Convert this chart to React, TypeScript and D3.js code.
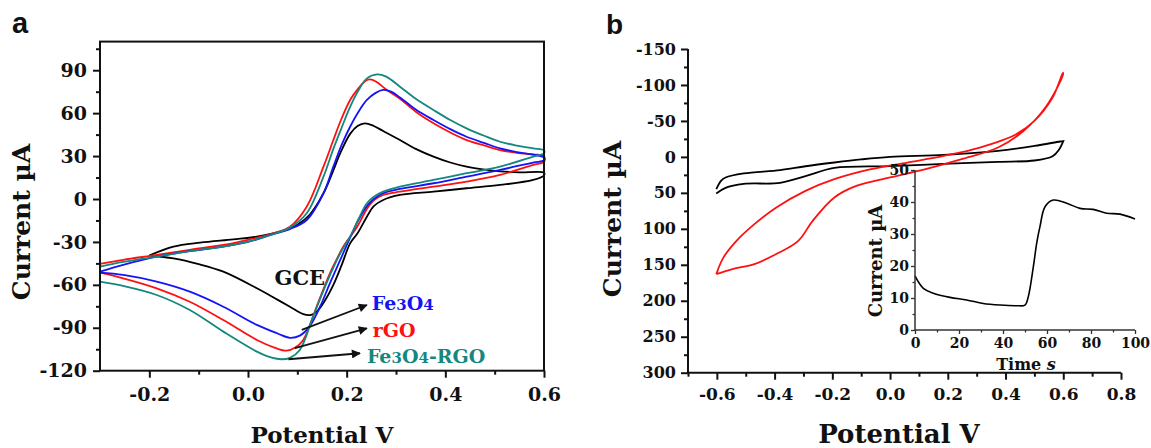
import React, { useEffect, useRef } from 'react';
import * as d3 from 'd3';

type Pt = [number, number];

// ---- panel a: CVs, potential (V) vs current (µA) ----
const gceForward: Pt[] = [[-0.2, -39.5], [-0.151, -33.3], [-0.097, -30.5], [-0.03, -28.2], [0.018, -26.3], [0.072, -22.1], [0.1, -18], [0.125, -11], [0.153, 4], [0.173, 20], [0.187, 32], [0.207, 45.5], [0.222, 51], [0.237, 52.9], [0.255, 51], [0.274, 47.5], [0.308, 41.2], [0.34, 35], [0.376, 29.6], [0.41, 25.5], [0.443, 22.6], [0.48, 20.5], [0.511, 19.3], [0.55, 18.6], [0.6, 18.4]];
const gceReverse: Pt[] = [[0.6, 16.5], [0.578, 13.3], [0.511, 9.8], [0.443, 7.5], [0.376, 5.1], [0.308, 2.8], [0.274, -0.7], [0.255, -5], [0.241, -12.4], [0.222, -24], [0.207, -31], [0.19, -46], [0.173, -60], [0.155, -71.5], [0.14, -78.5], [0.128, -81], [0.112, -80.5], [0.085, -75.3], [0.05, -68.5], [0.018, -62.4], [-0.05, -50.8], [-0.1, -45.5], [-0.151, -41.5], [-0.2, -39.5]];

const fe3o4Forward: Pt[] = [[-0.3, -50.8], [-0.253, -46], [-0.185, -40.3], [-0.118, -36.5], [-0.05, -33.3], [0.0, -30], [0.051, -24.5], [0.085, -21], [0.119, -14.7], [0.153, 4], [0.173, 22.6], [0.19, 38], [0.207, 50.5], [0.224, 61], [0.241, 69.2], [0.258, 74], [0.274, 76.2], [0.29, 75], [0.308, 71], [0.34, 62.5], [0.376, 55.2], [0.41, 48.8], [0.443, 43.5], [0.48, 39], [0.511, 35.4], [0.545, 32.8], [0.578, 31], [0.6, 29]];
const fe3o4Reverse: Pt[] = [[0.6, 27], [0.578, 25.5], [0.511, 20.3], [0.443, 15.6], [0.376, 11], [0.308, 7], [0.274, 4], [0.255, 0], [0.241, -5], [0.222, -16], [0.207, -27], [0.187, -42.6], [0.166, -58.9], [0.146, -75.3], [0.125, -89], [0.105, -95.5], [0.085, -97], [0.06, -94], [0.018, -88], [-0.05, -75.3], [-0.118, -64.8], [-0.185, -57.8], [-0.253, -53.1], [-0.3, -51.5]];

const rgoForward: Pt[] = [[-0.3, -45.4], [-0.253, -42.5], [-0.185, -39.1], [-0.118, -35.5], [-0.05, -32.1], [0.0, -28.5], [0.051, -24], [0.085, -19.4], [0.119, -5.4], [0.153, 22.6], [0.173, 41.2], [0.187, 54], [0.207, 69.2], [0.224, 77.5], [0.238, 82.5], [0.247, 83.6], [0.26, 82], [0.28, 76.5], [0.308, 70], [0.34, 61], [0.376, 52.9], [0.41, 46.5], [0.443, 41.2], [0.48, 37.3], [0.511, 34.2], [0.545, 32.3], [0.578, 31.2], [0.6, 30]];
const rgoReverse: Pt[] = [[0.6, 26], [0.578, 23.8], [0.511, 16.8], [0.443, 12.1], [0.376, 8.6], [0.308, 5.1], [0.274, 2.8], [0.255, -1], [0.241, -7], [0.222, -19], [0.193, -33.3], [0.18, -42], [0.166, -51.9], [0.139, -75.3], [0.112, -98.5], [0.095, -104], [0.078, -106], [0.055, -104], [0.018, -98.5], [-0.05, -84.6], [-0.118, -71.8], [-0.185, -62.4], [-0.253, -55.4], [-0.3, -51.5]];

const compForward: Pt[] = [[-0.3, -47.3], [-0.253, -44], [-0.185, -40.3], [-0.118, -36.5], [-0.05, -33.3], [0.0, -29.8], [0.051, -24.5], [0.085, -20], [0.119, -10], [0.153, 15.6], [0.173, 35], [0.19, 50], [0.207, 64.4], [0.224, 76], [0.241, 84.3], [0.262, 87.1], [0.28, 85.5], [0.308, 78.5], [0.34, 70], [0.376, 62.2], [0.41, 55.2], [0.443, 49.4], [0.48, 44], [0.511, 40], [0.545, 37.3], [0.578, 35.4], [0.6, 34]];
const compReverse: Pt[] = [[0.6, 32], [0.578, 29.6], [0.511, 22.6], [0.443, 18], [0.376, 13.3], [0.308, 8.6], [0.274, 5.1], [0.255, 1.5], [0.241, -3], [0.224, -14], [0.207, -26.3], [0.187, -37.9], [0.159, -58.9], [0.132, -82.2], [0.105, -105.5], [0.085, -111], [0.068, -112], [0.04, -110], [0.018, -106.7], [-0.05, -92.7], [-0.118, -77.6], [-0.185, -67.1], [-0.253, -60.8], [-0.3, -57.8]];

const aYMajor = [-120, -90, -60, -30, 0, 30, 60, 90];
const aYMinor = [-105, -75, -45, -15, 15, 45, 75, 105];
const aXMajor = [-0.2, 0, 0.2, 0.4, 0.6];
const aXMinor = [-0.1, 0.1, 0.3, 0.5];

// annotations in panel a (data coords)
const labelGce: Pt = [0.105, -60];
const arrowStarts: Pt[] = [[0.109, -91.5], [0.095, -104.3], [0.082, -112]];
const arrowEnds: Pt[] = [[0.241, -74.1], [0.241, -90.4], [0.227, -107.8]];
const labelSpots: Pt[] = [[0.251, -77.6], [0.253, -96.2], [0.241, -114.6]];

// ---- panel b: CVs on reversed current axis ----
const bRedOut: Pt[] = [[-0.602, 163], [-0.577, 139.7], [-0.532, 116.7], [-0.47, 93.5], [-0.394, 70.3], [-0.293, 47.2], [-0.193, 31], [-0.066, 17.1], [0.06, 7.8], [0.186, -1.4], [0.311, -13], [0.437, -31.5], [0.5, -50], [0.563, -82.5], [0.599, -117]];
const bRedBack: Pt[] = [[0.599, -114], [0.538, -68.6], [0.462, -36], [0.374, -13], [0.248, 3.2], [0.123, 17.1], [0.0, 28.6], [-0.117, 40.3], [-0.193, 56.4], [-0.268, 88.9], [-0.318, 116.7], [-0.394, 135], [-0.47, 149], [-0.546, 156], [-0.602, 163]];
const bBlackOut: Pt[] = [[-0.602, 44.9], [-0.585, 33], [-0.57, 28.7], [-0.507, 23], [-0.381, 18.5], [-0.293, 13], [-0.193, 7.8], [-0.1, 3.5], [0.0, 0], [0.186, -2.8], [0.374, -8.3], [0.5, -15.3], [0.589, -21.4], [0.6, -22]];
const bBlackBack: Pt[] = [[0.6, -22], [0.585, -10], [0.563, -1], [0.5, 5], [0.374, 6.9], [0.186, 9.7], [0.0, 12.9], [-0.193, 15.3], [-0.293, 26.8], [-0.381, 36.1], [-0.507, 37.5], [-0.57, 43], [-0.602, 50.9]];

const bYMajor = [-150, -100, -50, 0, 50, 100, 150, 200, 250, 300];
const bYMinor = [-125, -75, -25, 25, 75, 125, 175, 225, 275];
const bXMajor = [-0.6, -0.4, -0.2, 0, 0.2, 0.4, 0.6, 0.8];
const bXMinor = [-0.7, -0.5, -0.3, -0.1, 0.1, 0.3, 0.5, 0.7];

// ---- inset: current vs time ----
const insetTime = [0, 3.8, 8.3, 15.9, 23.5, 31, 38.6, 46.2, 50, 51.5, 53.8, 55.3, 56.8, 59.1, 62.9, 69, 75, 81, 87.1, 93.2, 100];
const insetCurrent = [16.9, 13, 11.5, 10.2, 9.4, 8.3, 7.8, 7.6, 7.8, 10.4, 19.8, 27.1, 32.3, 38.5, 40.6, 39.6, 38, 37.7, 36.5, 36.2, 34.7];
const inXMajor = [0, 20, 40, 60, 80, 100];
const inXMinor = [10, 30, 50, 70, 90];
const inYMajor = [0, 10, 20, 30, 40, 50];
const inYMinor = [5, 15, 25, 35, 45];

const SERIF = '"DejaVu Serif", serif';
const SANS = '"Liberation Sans", Arial, sans-serif';
const INK = '#111';

const App = () => {
    const svgRef = useRef<SVGSVGElement>(null);

    useEffect(() => {
        const svg = d3.select(svgRef.current);
        svg.selectAll('*').remove();

        const defs = svg.append('defs');
        defs.append('marker')
            .attr('id', 'arrowHead')
            .attr('viewBox', '0 0 10 10')
            .attr('refX', 9).attr('refY', 5)
            .attr('markerWidth', 13).attr('markerHeight', 9)
            .attr('markerUnits', 'userSpaceOnUse')
            .attr('orient', 'auto')
            .append('path')
            .attr('d', 'M0,0 L10,5 L0,10 Z')
            .attr('fill', INK);

        // generic tick drawer
        const ticks = (g, axis, fontSize, fmt) => {
            g.call(axis.tickFormat(fmt));
            g.select('.domain').remove();
            g.selectAll('line').attr('stroke', INK).attr('stroke-width', 2);
            g.selectAll('text')
                .attr('fill', INK)
                .style('font-family', SERIF)
                .style('font-weight', 'bold')
                .style('font-size', `${fontSize}px`);
        };

        // ===== panel a =====
        const aX = d3.scaleLinear().domain([-0.3, 0.6]).range([100, 544]);
        const aY = d3.scaleLinear().domain([-120, 110]).range([370.7, 41.6]);
        const pa = svg.append('g');

        const aLine = d3.line<Pt>().x(d => aX(d[0])).y(d => aY(d[1])).curve(d3.curveCatmullRom.alpha(0.5));
        const aSeries = [
            { f: gceForward, r: gceReverse, c: '#000000' },
            { f: rgoForward, r: rgoReverse, c: '#ff1010' },
            { f: fe3o4Forward, r: fe3o4Reverse, c: '#1414f5' },
            { f: compForward, r: compReverse, c: '#14877e' },
        ];
        aSeries.forEach(s => {
            pa.append('path')
                .attr('d', aLine(s.f.concat(s.r)))
                .attr('fill', 'none')
                .attr('stroke', s.c)
                .attr('stroke-width', 1.8)
                .attr('stroke-linejoin', 'round');
        });

        pa.append('rect')
            .attr('x', 100).attr('y', 41.6).attr('width', 444).attr('height', 329.1)
            .attr('fill', 'none').attr('stroke', INK).attr('stroke-width', 2);

        ticks(pa.append('g').attr('transform', 'translate(100,0)'),
            d3.axisLeft(aY).tickValues(aYMajor).tickSize(7).tickPadding(6), 19, d => String(d));
        ticks(pa.append('g').attr('transform', 'translate(100,0)'),
            d3.axisLeft(aY).tickValues(aYMinor).tickSize(4), 19, () => '');
        ticks(pa.append('g').attr('transform', 'translate(0,370.7)'),
            d3.axisBottom(aX).tickValues(aXMajor).tickSize(7).tickPadding(10), 19, d => d.toFixed(1));
        ticks(pa.append('g').attr('transform', 'translate(0,370.7)'),
            d3.axisBottom(aX).tickValues(aXMinor).tickSize(4), 19, () => '');

        // annotations
        pa.append('text')
            .attr('x', aX(labelGce[0])).attr('y', aY(labelGce[1]))
            .attr('text-anchor', 'middle')
            .style('font-family', SERIF).style('font-weight', 'bold').style('font-size', '21px')
            .attr('fill', INK)
            .text('GCE');

        arrowStarts.forEach((s, i) => {
            pa.append('line')
                .attr('x1', aX(s[0])).attr('y1', aY(s[1]))
                .attr('x2', aX(arrowEnds[i][0])).attr('y2', aY(arrowEnds[i][1]))
                .attr('stroke', INK).attr('stroke-width', 1.8)
                .attr('marker-end', 'url(#arrowHead)');
        });

        const labelColors = ['#1414f5', '#ff1010', '#14877e'];
        const labelParts = [
            [['Fe', 19], ['3', 15], ['O', 19], ['4', 15]],
            [['rGO', 19]],
            [['Fe', 19], ['3', 15], ['O', 19], ['4', 15], ['-RGO', 19]],
        ];
        labelSpots.forEach((p, i) => {
            const t = pa.append('text')
                .attr('x', aX(p[0])).attr('y', aY(p[1]))
                .attr('fill', labelColors[i])
                .style('font-family', SERIF).style('font-weight', 'bold');
            labelParts[i].forEach(([txt, fs]) => {
                t.append('tspan').style('font-size', `${fs}px`).text(txt as string);
            });
        });

        pa.append('text')
            .attr('transform', 'translate(30,222) rotate(-90)')
            .attr('text-anchor', 'middle')
            .style('font-family', SERIF).style('font-weight', 'bold').style('font-size', '25px')
            .attr('fill', INK)
            .text('Current µA');
        pa.append('text')
            .attr('x', 322).attr('y', 443)
            .attr('text-anchor', 'middle')
            .style('font-family', SERIF).style('font-weight', 'bold').style('font-size', '23px')
            .attr('fill', INK)
            .text('Potential V');
        svg.append('text')
            .attr('x', 12).attr('y', 33)
            .style('font-family', SANS).style('font-weight', 'bold').style('font-size', '29px')
            .attr('fill', INK)
            .text('a');

        // ===== panel b =====
        const bX = d3.scaleLinear().domain([-0.7, 0.8]).range([688, 1121]);
        const bY = d3.scaleLinear().domain([-150, 300]).range([49, 372.7]);
        const pb = svg.append('g');
        const bLine = d3.line<Pt>().x(d => bX(d[0])).y(d => bY(d[1])).curve(d3.curveCatmullRom.alpha(0.5));

        pb.append('path')
            .attr('d', bLine(bBlackOut.concat(bBlackBack)))
            .attr('fill', 'none').attr('stroke', '#000').attr('stroke-width', 1.8);
        pb.append('path')
            .attr('d', bLine(bRedOut.concat(bRedBack)))
            .attr('fill', 'none').attr('stroke', '#ff1010').attr('stroke-width', 1.8);

        pb.append('line').attr('x1', 688).attr('x2', 688).attr('y1', 49).attr('y2', 372.7)
            .attr('stroke', INK).attr('stroke-width', 2);
        pb.append('line').attr('x1', 687).attr('x2', 1121).attr('y1', 372.7).attr('y2', 372.7)
            .attr('stroke', INK).attr('stroke-width', 2);

        ticks(pb.append('g').attr('transform', 'translate(688,0)'),
            d3.axisLeft(bY).tickValues(bYMajor).tickSize(7).tickPadding(5), 16, d => String(d));
        ticks(pb.append('g').attr('transform', 'translate(688,0)'),
            d3.axisLeft(bY).tickValues(bYMinor).tickSize(4), 16, () => '');
        ticks(pb.append('g').attr('transform', 'translate(0,372.7)'),
            d3.axisBottom(bX).tickValues(bXMajor).tickSize(7).tickPadding(8), 17, d => d.toFixed(1));
        ticks(pb.append('g').attr('transform', 'translate(0,372.7)'),
            d3.axisBottom(bX).tickValues(bXMinor).tickSize(4), 17, () => '');

        pb.append('text')
            .attr('transform', 'translate(621,219) rotate(-90)')
            .attr('text-anchor', 'middle')
            .style('font-family', SERIF).style('font-weight', 'bold').style('font-size', '25px')
            .attr('fill', INK)
            .text('Current µA');
        pb.append('text')
            .attr('x', 899).attr('y', 443)
            .attr('text-anchor', 'middle')
            .style('font-family', SERIF).style('font-weight', 'bold').style('font-size', '26px')
            .attr('fill', INK)
            .text('Potential V');
        svg.append('text')
            .attr('x', 606).attr('y', 34)
            .style('font-family', SANS).style('font-weight', 'bold').style('font-size', '28px')
            .attr('fill', INK)
            .text('b');

        // ===== inset =====
        const iX = d3.scaleLinear().domain([0, 100]).range([915, 1135]);
        const iY = d3.scaleLinear().domain([0, 50]).range([330, 170]);
        const pi = svg.append('g');
        const insetData = insetTime.map((t, i) => [t, insetCurrent[i]] as Pt);
        pi.append('path')
            .attr('d', d3.line<Pt>().x(d => iX(d[0])).y(d => iY(d[1])).curve(d3.curveCatmullRom.alpha(0.5))(insetData))
            .attr('fill', 'none').attr('stroke', '#000').attr('stroke-width', 1.6);

        pi.append('line').attr('x1', 915).attr('x2', 915).attr('y1', 170).attr('y2', 330)
            .attr('stroke', '#333').attr('stroke-width', 1.5);
        pi.append('line').attr('x1', 915).attr('x2', 1135).attr('y1', 330).attr('y2', 330)
            .attr('stroke', '#333').attr('stroke-width', 1.5);

        const smallTicks = (g, axis, fmt) => {
            ticks(g, axis, 14, fmt);
            g.selectAll('line').attr('stroke', '#333').attr('stroke-width', 1.3);
        };
        smallTicks(pi.append('g').attr('transform', 'translate(915,0)'),
            d3.axisLeft(iY).tickValues(inYMajor).tickSize(4).tickPadding(2), d => String(d));
        smallTicks(pi.append('g').attr('transform', 'translate(915,0)'),
            d3.axisLeft(iY).tickValues(inYMinor).tickSize(2.5), () => '');
        smallTicks(pi.append('g').attr('transform', 'translate(0,330)'),
            d3.axisBottom(iX).tickValues(inXMajor).tickSize(4).tickPadding(4), d => String(d));
        smallTicks(pi.append('g').attr('transform', 'translate(0,330)'),
            d3.axisBottom(iX).tickValues(inXMinor).tickSize(2.5), () => '');

        pi.append('text')
            .attr('transform', 'translate(882,261) rotate(-90)')
            .attr('text-anchor', 'middle')
            .style('font-family', SERIF).style('font-weight', 'bold').style('font-size', '18px')
            .attr('fill', INK)
            .text('Current µA');
        const timeLabel = pi.append('text')
            .attr('x', 1026).attr('y', 370)
            .attr('text-anchor', 'middle')
            .style('font-family', SERIF).style('font-weight', 'bold').style('font-size', '16px')
            .attr('fill', INK);
        timeLabel.append('tspan').text('Time ');
        timeLabel.append('tspan').style('font-style', 'italic').text('s');
    }, []);

    return (
        <div style={{ position: 'absolute', left: 0, top: 0 }}>
            <svg ref={svgRef} width={1151} height={448} style={{ display: 'block', background: '#fff' }}></svg>
        </div>
    );
};

export default App;
